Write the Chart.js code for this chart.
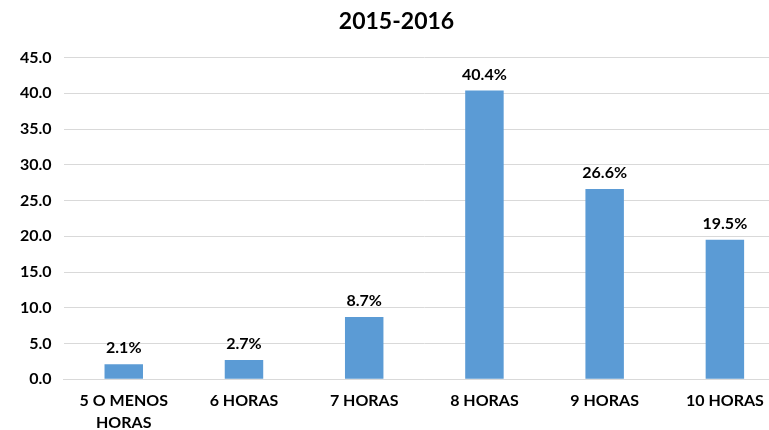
<!DOCTYPE html>
<html>
<head>
<meta charset="utf-8">
<script src="https://cdn.jsdelivr.net/npm/chart.js@4/dist/chart.umd.min.js"></script>
<style>
  html, body { margin: 0; padding: 0; background: #fff; overflow: hidden; }
  .chart { width: 810px; height: 430px; }
</style>
</head>
<body>
<div class="chart"><canvas id="c"></canvas></div>
<script>
const categories = [["5 O MENOS", "HORAS"], "6 HORAS", "7 HORAS", "8 HORAS", "9 HORAS", "10 HORAS"];
const values = [2.1, 2.7, 8.7, 40.4, 26.6, 19.5];
const yTicks = [0, 5, 10, 15, 20, 25, 30, 35, 40, 45];

const FONT = "Lato, 'Open Sans', sans-serif";

// draws the "xx.x%" labels above each bar
const barLabels = {
  id: "barLabels",
  afterDatasetsDraw(chart) {
    const ctx = chart.ctx;
    const meta = chart.getDatasetMeta(0);
    ctx.save();
    ctx.font = "bold 16px " + FONT;
    ctx.fillStyle = "#000";
    ctx.textAlign = "center";
    ctx.textBaseline = "bottom";
    meta.data.forEach((bar, i) => {
      ctx.fillText(values[i].toFixed(1) + "%", bar.x, bar.y - 8);
    });
    ctx.restore();
  },
};

new Chart(document.getElementById("c").getContext("2d"), {
  type: "bar",
  data: {
    labels: categories,
    datasets: [
      {
        data: values,
        backgroundColor: "#5b9bd5",
        borderWidth: 0,
        categoryPercentage: 1,
        barPercentage: 0.32,
      },
    ],
  },
  options: {
    responsive: true,
    maintainAspectRatio: false,
    animation: false,
    layout: { padding: { left: 8, right: 25, top: 4, bottom: -14 } },
    plugins: {
      legend: { display: false },
      tooltip: { enabled: false },
      title: {
        display: true,
        text: "2015-2016",
        color: "#000",
        font: { size: 23, weight: "bold", family: FONT },
        padding: { top: 4, bottom: 22 },
      },
    },
    scales: {
      y: {
        min: 0,
        max: 45,
        afterBuildTicks: (axis) => {
          axis.ticks = yTicks.map((v) => ({ value: v }));
        },
        ticks: {
          color: "#000",
          font: { size: 16, weight: "bold", family: FONT },
          padding: 12,
          callback: (v) => Number(v).toFixed(1),
        },
        grid: { color: "#d9d9d9", drawTicks: false },
        border: { display: false },
      },
      x: {
        ticks: {
          color: "#000",
          font: { size: 16, weight: "bold", family: FONT, lineHeight: 1.4 },
          padding: 10,
        },
        grid: { display: false, drawTicks: false },
        border: { color: "#d9d9d9" },
      },
    },
  },
  plugins: [barLabels],
});
</script>
</body>
</html>
